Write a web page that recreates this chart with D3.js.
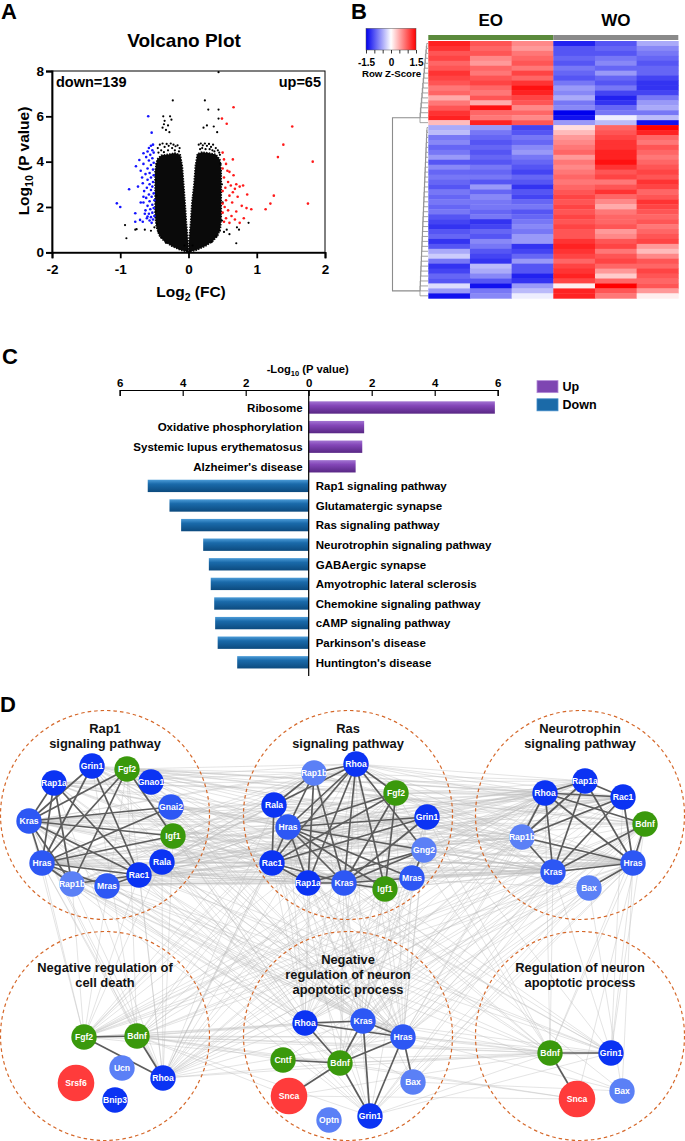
<!DOCTYPE html>
<html><head><meta charset="utf-8">
<script src="https://cdn.jsdelivr.net/npm/d3@7"></script>
<style>
body{margin:0;background:#fff}
svg{display:block}
</style></head><body>
<svg id="fig" width="685" height="1141"></svg>
<script>
// ================= DATA =================
// Panel A – volcano
const volcanoTicksX = [-2,-1,0,1,2];
const volcanoTicksY = [0,2,4,6,8];
const downCount = 139, upCount = 65;
// envelope of the dense (non-significant) point cloud
const coreLeft = [[0,0],[-0.01,0.6],[-0.03,1.3],[-0.05,2.2],[-0.07,3.0],[-0.09,3.8],[-0.12,4.3],[-0.2,4.38],[-0.3,4.32],[-0.4,4.28],[-0.46,4.1],[-0.49,3.6],[-0.49,2.6],[-0.49,1.6],[-0.47,1.1],[-0.43,0.75],[-0.36,0.5],[-0.25,0.28],[-0.12,0.1]];
const coreRight = [[0,0],[0.01,0.6],[0.03,1.3],[0.05,2.2],[0.08,3.0],[0.1,3.8],[0.13,4.35],[0.2,4.42],[0.3,4.38],[0.4,4.32],[0.46,4.1],[0.48,3.6],[0.48,2.6],[0.48,1.6],[0.47,1.1],[0.43,0.75],[0.36,0.5],[0.25,0.28],[0.12,0.1]];
const nsPoints = [[-0.93,1.2],[-0.91,0.62],[-0.78,1.0],[-0.76,1.02],[-0.64,1.0],[-0.37,6.0],[-0.27,6.0],[-0.23,6.7],[-0.35,5.8],[-0.3,5.6],[-0.33,5.4],[-0.28,5.3],[-0.38,5.5],[-0.25,5.85],[-0.36,5.65],[0.24,6.7],[0.29,6.3],[0.44,6.3],[0.22,5.5],[0.27,5.6],[0.37,5.55],[0.42,5.3],[0.44,5.9],[0.44,7.95],[0.56,1.0],[0.71,1.1],[0.74,1.0],[0.88,1.3],[0.7,0.4],[0.52,0.9],[0.6,0.8],[-0.55,0.95],[-0.5,1.1],[-0.45,4.6],[-0.42,4.75],[-0.38,4.8],[-0.35,4.65],[-0.32,4.78],[-0.29,4.7],[-0.26,4.8],[-0.22,4.75],[-0.19,4.68],[-0.16,4.72],[-0.13,4.6],[-0.4,4.5],[-0.3,4.5],[-0.2,4.5],[-0.44,4.4],[-0.24,4.6],[-0.14,4.45],[-0.36,4.42],[0.15,4.75],[0.18,4.8],[0.21,4.72],[0.24,4.8],[0.27,4.7],[0.3,4.78],[0.33,4.65],[0.36,4.75],[0.4,4.6],[0.43,4.5],[0.45,4.4],[0.17,4.55],[0.25,4.55],[0.35,4.5],[0.2,4.6],[0.31,4.55],[0.46,4.3],[0.38,4.45],[-0.47,3.9],[-0.48,3.2],[-0.47,2.5],[-0.48,1.8],[-0.46,1.25],[-0.44,0.9],[-0.4,0.65],[-0.33,0.42],[0.47,3.9],[0.49,3.0],[0.5,2.2],[0.49,1.4],[0.46,0.95],[0.41,0.7],[0.34,0.45],[-0.02,0.05],[0.02,0.05],[-0.06,0.3],[0.06,0.3]];
const downPoints = [[-0.52,4.75],[-0.55,4.7],[-0.58,4.6],[-0.53,4.5],[-0.6,4.45],[-0.51,4.4],[-0.56,4.3],[-0.62,4.2],[-0.53,4.15],[-0.58,4.05],[-0.51,3.95],[-0.66,3.9],[-0.55,3.85],[-0.6,3.7],[-0.52,3.65],[-0.7,3.6],[-0.57,3.5],[-0.63,3.45],[-0.51,3.4],[-0.55,3.3],[-0.6,3.2],[-0.52,3.1],[-0.67,3.05],[-0.57,3.0],[-0.53,2.9],[-0.61,2.85],[-0.55,2.75],[-0.65,2.7],[-0.51,2.6],[-0.58,2.55],[-0.54,2.45],[-0.62,2.4],[-0.5,2.3],[-0.57,2.25],[-0.66,2.2],[-0.53,2.1],[-0.6,2.05],[-0.51,1.95],[-0.56,1.9],[-0.63,1.85],[-0.53,1.75],[-0.58,1.7],[-0.5,1.6],[-0.55,1.55],[-0.61,1.5],[-0.52,1.45],[-0.57,1.4],[-0.67,1.35],[-0.54,1.3],[-0.6,1.58],[-0.59,6.0],[-0.54,5.28],[-1.05,2.16],[-1.0,2.0],[-0.87,2.78],[-0.77,3.8],[-0.72,4.07],[-0.66,4.37],[-0.78,1.72],[-0.78,1.35],[-0.66,2.45],[-0.71,1.43],[-0.68,3.3],[-0.74,2.9],[-0.64,1.7],[-0.7,2.2]];
const upPoints = [[0.66,6.4],[0.49,5.9],[0.56,5.67],[1.52,5.55],[1.39,4.75],[1.31,4.2],[1.82,4.0],[1.25,2.5],[1.2,2.15],[1.13,1.9],[1.75,2.15],[0.5,4.4],[0.52,4.1],[0.65,4.1],[0.55,3.9],[0.5,3.7],[0.6,3.55],[0.66,3.4],[0.52,3.3],[0.58,3.1],[0.7,3.0],[0.62,2.95],[0.75,2.9],[0.8,2.95],[0.54,2.85],[0.68,2.8],[0.5,2.7],[0.86,2.55],[0.6,2.5],[0.72,2.45],[0.55,2.3],[0.5,2.15],[0.64,2.2],[0.78,2.05],[0.53,2.0],[0.85,1.95],[0.92,1.9],[0.58,1.85],[0.7,1.8],[0.5,1.75],[0.63,1.6],[0.81,1.5],[0.55,1.5],[0.68,1.45],[0.52,1.35],[0.75,1.3],[0.6,1.3],[0.65,2.65],[0.57,3.6]];

// Panel B – heatmap (row bands, z-scores for EO1..3, WO1..3)
const sampleGroups = ["EO","WO"];
const zTicks = [-1.5,-1,-0.5,0,0.5,1,1.5];
const zLabels = [-1.5,0,1.5];
const hmTop = [
[1.3,1.0,0.7,-1.3,-1.0,-0.5],[1.2,0.9,0.6,-1.0,-0.9,-0.7],[1.0,1.0,0.8,-1.0,-1.0,-0.8],[1.1,0.7,0.9,-0.9,-0.8,-0.9],
[0.9,0.6,1.0,-1.0,-0.7,-1.0],[1.0,0.9,0.8,-0.8,-0.9,-0.9],[1.2,0.8,1.1,-0.9,-0.6,-0.9],[1.1,1.0,0.9,-1.0,-0.9,-1.1],
[1.0,1.1,1.2,-0.8,-1.0,-1.2],[0.8,0.9,1.4,-0.6,-0.8,-1.2],[0.9,0.8,1.3,-0.7,-1.1,-1.1],[0.5,1.0,1.1,-0.5,-1.3,-0.8],
[0.8,0.5,1.0,-0.8,-1.2,-0.6],[1.0,1.4,0.7,-0.7,-0.9,-0.5],[1.2,0.9,0.9,-1.5,-0.8,-0.8],[1.3,0.8,0.7,-1.4,-0.1,-0.4],
[0.4,1.3,1.0,-0.6,-0.4,-1.4]];
const hmBottom = [
[-0.5,-0.6,-1.1,0.2,0.9,1.5],[-0.4,-0.8,-1.0,0.4,1.0,1.3],[-0.8,-0.9,-0.8,0.6,1.1,0.9],[-0.7,-1.0,-0.9,0.7,1.2,0.8],
[-0.9,-0.9,-0.7,0.8,1.2,1.0],[-0.8,-1.0,-0.6,0.9,1.3,0.9],[-0.6,-0.9,-0.8,0.6,1.3,0.8],[-1.0,-1.0,-0.9,0.8,1.4,0.9],
[-0.7,-0.8,-1.0,0.7,1.2,1.0],[-0.9,-0.9,-1.1,0.8,1.0,1.1],[-0.8,-0.8,-0.9,0.9,1.1,1.0],[-0.9,-1.0,-1.0,0.8,0.8,1.2],
[-1.0,-0.6,-1.2,0.9,1.0,1.1],[-0.8,-0.9,-1.0,1.0,1.2,0.9],[-0.9,-0.7,-1.1,1.1,0.9,1.0],[-0.8,-0.8,-0.9,1.0,0.7,1.2],
[-0.9,-0.8,-0.8,1.1,0.5,1.1],[-0.8,-0.9,-1.0,1.0,0.8,1.0],[-1.0,-0.8,-0.9,1.1,0.9,0.9],[-1.1,-1.2,-0.8,1.0,0.9,1.0],
[-1.2,-1.1,-0.7,1.1,1.0,0.8],[-1.0,-0.9,-0.8,1.0,0.6,0.9],[-0.9,-1.0,-0.6,1.0,0.7,1.0],[-1.2,-0.7,-0.6,1.2,1.0,1.1],
[-1.0,-0.8,-1.2,1.3,1.1,0.6],[-0.5,-1.0,-1.1,1.2,0.8,0.4],[-0.3,-1.1,-0.9,1.1,1.0,0.7],[-0.8,-1.2,-0.6,0.9,1.1,1.0],
[-1.2,-0.4,-1.0,1.1,0.9,0.9],[-1.1,-0.5,-1.0,1.2,0.6,1.1],[-0.9,-0.7,-1.3,1.3,0.3,1.0],[-1.0,-1.0,-1.2,1.1,0.9,0.9],
[-0.2,-1.4,-0.6,0.1,1.5,1.0],[-0.6,-0.8,-0.4,1.3,1.0,0.6],[-1.4,-0.7,-0.1,1.3,0.8,0.1]];

// Panel C – enrichment bars
const termNames = ["Ribosome","Oxidative phosphorylation","Systemic lupus erythematosus","Alzheimer's disease","Rap1 signaling pathway","Glutamatergic synapse","Ras signaling pathway","Neurotrophin signaling pathway","GABAergic synapse","Amyotrophic lateral sclerosis","Chemokine signaling pathway","cAMP signaling pathway","Parkinson's disease","Huntington's disease"];
const termValues = [5.91,1.76,1.70,1.49,5.11,4.42,4.05,3.35,3.17,3.11,3.00,2.97,2.89,2.27];
const termDir = ["Up","Up","Up","Up","Down","Down","Down","Down","Down","Down","Down","Down","Down","Down"];
const barTicks = [-6,-4,-2,0,2,4,6];
const legendKeys = ["Up","Down"];

// Panel D – network
const clusterTitles = [["Rap1","signaling pathway"],["Ras","signaling pathway"],["Neurotrophin","signaling pathway"],["Negative regulation of","cell death"],["Negative","regulation of neuron","apoptotic process"],["Regulation of neuron","apoptotic process"]];
const clusterGenes = [
 ["Grin1","Fgf2","Rap1a","Gnao1","Gnai2","Kras","Igf1","Hras","Rala","Rac1","Rap1b","Mras"],
 ["Rhoa","Rap1b","Fgf2","Rala","Grin1","Hras","Gng2","Rac1","Mras","Rap1a","Kras","Igf1"],
 ["Rap1a","Rhoa","Rac1","Bdnf","Rap1b","Hras","Kras","Bax"],
 ["Fgf2","Bdnf","Ucn","Srsf6","Rhoa","Bnip3"],
 ["Rhoa","Kras","Hras","Cntf","Bdnf","Bax","Snca","Optn","Grin1"],
 ["Bdnf","Grin1","Snca","Bax"]];
const clusterEdges = [
 [["Kras","Grin1"],["Kras","Fgf2"],["Kras","Gnai2"],["Kras","Igf1"],["Kras","Rac1"],["Kras","Hras"],["Kras","Rap1b"],["Kras","Rap1a"],["Hras","Rap1a"],["Hras","Grin1"],["Hras","Fgf2"],["Hras","Gnai2"],["Hras","Igf1"],["Hras","Rac1"],["Hras","Rap1b"],["Hras","Mras"],["Rap1a","Rac1"],["Rap1a","Rap1b"],["Grin1","Rac1"],["Fgf2","Igf1"],["Fgf2","Rap1b"],["Rac1","Mras"],["Rac1","Rap1b"]],
 [["Rhoa","Rap1b"],["Rhoa","Hras"],["Rhoa","Rac1"],["Rhoa","Rap1a"],["Rhoa","Kras"],["Rhoa","Igf1"],["Rhoa","Gng2"],["Rhoa","Fgf2"],["Rhoa","Rala"],["Rap1b","Rala"],["Rap1b","Hras"],["Rap1b","Rap1a"],["Rap1b","Kras"],["Rala","Rac1"],["Rala","Hras"],["Hras","Fgf2"],["Hras","Grin1"],["Hras","Gng2"],["Hras","Rac1"],["Hras","Rap1a"],["Hras","Kras"],["Hras","Igf1"],["Hras","Mras"],["Fgf2","Kras"],["Fgf2","Igf1"],["Fgf2","Rac1"],["Grin1","Kras"],["Grin1","Rac1"],["Gng2","Kras"],["Gng2","Mras"],["Gng2","Rap1a"],["Rac1","Rap1a"],["Rac1","Kras"],["Rap1a","Kras"],["Kras","Igf1"],["Kras","Mras"]],
 [["Rhoa","Rap1a"],["Rhoa","Rac1"],["Rhoa","Bdnf"],["Rhoa","Rap1b"],["Rhoa","Kras"],["Rhoa","Hras"],["Rap1a","Rac1"],["Rap1a","Kras"],["Rap1a","Hras"],["Rap1a","Rap1b"],["Rac1","Rap1b"],["Rac1","Hras"],["Rac1","Kras"],["Bdnf","Kras"],["Bdnf","Hras"],["Rap1b","Kras"],["Rap1b","Hras"],["Kras","Hras"],["Hras","Bax"]],
 [["Fgf2","Bdnf"],["Fgf2","Rhoa"],["Bdnf","Rhoa"]],
 [["Rhoa","Kras"],["Rhoa","Hras"],["Kras","Hras"],["Rhoa","Bdnf"],["Kras","Bdnf"],["Hras","Bdnf"],["Cntf","Bdnf"],["Bdnf","Snca"],["Bdnf","Grin1"],["Kras","Grin1"],["Hras","Grin1"],["Hras","Bax"]],
 [["Bdnf","Grin1"],["Bdnf","Snca"]]];
const geneNames = ["Grin1","Rap1a","Gnao1","Gnai2","Kras","Hras","Rala","Rac1","Rap1b","Mras","Rhoa","Gng2","Bax","Ucn","Bnip3","Optn","Fgf2","Igf1","Bdnf","Cntf","Srsf6","Snca"];
const geneGroup = ["dark","dark","dark","mid","mid","mid","dark","dark","light","mid","dark","light","light","light","dark","light","green","green","green","green","red","red"];
// layout (node offsets from the centre of each cluster circle)
const clusterLayout = [
 [[-13,-49],[22,-46],[-51,-32],[46,-33],[66,-8],[-76,6],[68,21],[-63,48],[57,47],[34,60],[-33,69],[2,71]],
 [[8,-51],[-34,-42],[48,-22],[-74,-10],[79,2],[-60,12],[76,35],[-76,48],[64,63],[-40,68],[-4,68],[37,74]],
 [[5,-34],[-35,-22],[43,-18],[65,9],[-58,22],[53,48],[-27,57],[9,73]],
 [[-21,1],[32,0],[17,32],[-29,47],[58,42],[10,64]],
 [[-43,-13],[15,-15],[55,1],[-65,24],[-8,27],[65,46],[-59,60],[-19,84],[22,80]],
 [[-30,17],[31,17],[-3,63],[42,55]]];
const clusterCols = [105,348,580,105,348,580];
const clusterRows = [815,815,815,1036,1036,1036];
const titleTop = [733,733,733,971.7,964,971.7];

// ================= DRAW =================
const F = '"Liberation Sans", Arial, Helvetica, sans-serif';
const svg = d3.select("#fig").attr("font-family",F);

const panelLetters = ["A","B","C","D"];
const letterXY = [[1,18.5],[351,18.5],[2,364],[0,711.5]];
svg.selectAll("text.pl").data(panelLetters).join("text").attr("class","pl")
  .attr("x",(d,i)=>letterXY[i][0]).attr("y",(d,i)=>letterXY[i][1])
  .attr("font-size",22).attr("font-weight","bold").text(d=>d);

// ---------- Panel A ----------
const gA = svg.append("g");
const vx = d3.scaleLinear().domain([-2,2]).range([52,325]);
const vy = d3.scaleLinear().domain([0,8]).range([252.3,71]);
gA.append("text").attr("x",184).attr("y",46.7).attr("text-anchor","middle")
  .attr("font-size",19).attr("font-weight","bold").text("Volcano Plot");
gA.append("rect").attr("x",vx(-2)).attr("y",vy(8)).attr("width",vx(2)-vx(-2)).attr("height",vy(0)-vy(8))
  .attr("fill","none").attr("stroke","#000").attr("stroke-width",1);
const poly = d3.line().x(d=>vx(d[0])).y(d=>vy(d[1])).curve(d3.curveLinearClosed);
[coreLeft,coreRight].forEach(c=>gA.append("path").attr("d",poly(c)).attr("fill","#0a0a0a")
  .attr("stroke","#0a0a0a").attr("stroke-width",1.6).attr("stroke-dasharray","1.5,1.2"));
gA.selectAll("circle.ns").data(nsPoints).join("circle").attr("class","ns")
  .attr("cx",d=>vx(d[0])).attr("cy",d=>vy(d[1])).attr("r",1.1).attr("fill","#000");
gA.selectAll("circle.dn").data(downPoints).join("circle").attr("class","dn")
  .attr("cx",d=>vx(d[0])).attr("cy",d=>vy(d[1])).attr("r",1.3).attr("fill","#1414ff");
gA.selectAll("circle.up").data(upPoints).join("circle").attr("class","up")
  .attr("cx",d=>vx(d[0])).attr("cy",d=>vy(d[1])).attr("r",1.3).attr("fill","#ff1a1a");
const axA = gA.append("g").attr("transform",`translate(0,${vy(0)})`)
  .call(d3.axisBottom(vx).tickValues(volcanoTicksX).tickSize(6).tickPadding(6).tickFormat(d=>String(d)));
const ayA = gA.append("g").attr("transform",`translate(${vx(-2)},0)`)
  .call(d3.axisLeft(vy).tickValues(volcanoTicksY).tickSize(6).tickPadding(2).tickFormat(d=>String(d)));
[axA,ayA].forEach(a=>{a.selectAll("path,line").attr("stroke","#000").attr("stroke-width",1.8);
  a.selectAll("text").attr("font-size",13.5).attr("font-weight","bold").attr("font-family",F).attr("fill","#000");});
gA.append("text").attr("x",vx(-2)+4).attr("y",87.3).attr("font-size",14.5).attr("font-weight","bold").text("down="+downCount);
gA.append("text").attr("x",vx(2)-4).attr("y",87.3).attr("text-anchor","end").attr("font-size",14.5).attr("font-weight","bold").text("up="+upCount);
const xt = gA.append("text").attr("x",191).attr("y",296.5).attr("text-anchor","middle").attr("font-size",15.5).attr("font-weight","bold");
xt.append("tspan").text("Log");
xt.append("tspan").attr("font-size",10.5).attr("dy",4).text("2");
xt.append("tspan").attr("dy",-4).text(" (FC)");
const yt = gA.append("text").attr("transform","translate(29,161) rotate(-90)").attr("text-anchor","middle").attr("font-size",15.5).attr("font-weight","bold");
yt.append("tspan").text("Log");
yt.append("tspan").attr("font-size",10.5).attr("dy",4).text("10");
yt.append("tspan").attr("dy",-4).text(" (P value)");

// ---------- Panel B ----------
const gB = svg.append("g");
const hmRows = hmTop.concat(hmBottom);
const zColor = d3.scaleLinear().domain([-1.5,0,1.5]).range(["#0000ee","#ffffff","#ff0000"]).clamp(true);
const hx = d3.scaleBand().domain(d3.range(6)).range([428.3,678.3]);
const hy = d3.scaleBand().domain(d3.range(hmRows.length)).range([41,298.3]);
const gx = d3.scaleBand().domain(sampleGroups).range([428.3,678.3]);
gB.selectAll("rect.grp").data(sampleGroups).join("rect").attr("class","grp")
  .attr("x",d=>gx(d)).attr("y",35).attr("width",gx.bandwidth()).attr("height",5)
  .attr("fill",(d,i)=>i?"#8a8a8a":"#5b8a3c");
gB.selectAll("text.grp").data(sampleGroups).join("text").attr("class","grp")
  .attr("x",d=>gx(d)+gx.bandwidth()/2).attr("y",26).attr("text-anchor","middle")
  .attr("font-size",17).attr("font-weight","bold").text(d=>d);
hmRows.forEach((row,ri)=>{
  gB.selectAll(null).data(row).join("rect")
    .attr("x",(d,ci)=>hx(ci)).attr("y",hy(ri)).attr("width",hx.bandwidth()+0.4).attr("height",hy.bandwidth()+0.4)
    .attr("fill",d=>zColor(d));
});
// dendrogram (chained merges down each cluster, then joined)
const dendG = gB.append("g").attr("stroke","#8c8c8c").attr("stroke-width",0.8).attr("fill","none");
const leafX = 428;
function chain(idx){
  const h = d3.scaleLinear().domain([0,idx.length-1]).range([0.8,8]);
  let cur = {x:leafX, y:hy(idx[0])+hy.bandwidth()/2};
  for(let k=1;k<idx.length;k++){
    const ly = hy(idx[k])+hy.bandwidth()/2, nx = leafX-h(k);
    dendG.append("path").attr("d",`M${cur.x},${cur.y}H${nx}V${ly}H${leafX}`);
    cur = {x:nx, y:(cur.y+ly)/2};
  }
  return cur;
}
const rTop = chain(d3.range(hmTop.length));
const rBot = chain(d3.range(hmTop.length,hmRows.length));
dendG.append("path").attr("d",`M${rTop.x},${rTop.y}H392.5V${rBot.y}H${rBot.x}`).attr("stroke-width",1.1);
// colour key
const kx = d3.scaleLinear().domain([-1.5,1.5]).range([366,416]);
const grad = svg.append("defs").append("linearGradient").attr("id","zgrad");
zTicks.forEach(t=>grad.append("stop").attr("offset",(t+1.5)/3).attr("stop-color",zColor(t)));
gB.append("rect").attr("x",kx(-1.5)).attr("y",28.3).attr("width",kx(1.5)-kx(-1.5)).attr("height",21.7)
  .attr("fill","url(#zgrad)").attr("stroke","#555").attr("stroke-width",0.5);
const kax = gB.append("g").attr("transform","translate(0,50)")
  .call(d3.axisBottom(kx).tickValues(zTicks).tickSize(3.5).tickPadding(5).tickFormat(d=>zLabels.includes(d)?String(d):""));
kax.select(".domain").remove();
kax.selectAll("line").attr("stroke","#000").attr("stroke-width",0.8);
kax.selectAll("text").attr("font-size",10).attr("font-weight","bold").attr("font-family",F).attr("fill","#000");
gB.append("text").attr("x",391.5).attr("y",77.3).attr("text-anchor","middle").attr("font-size",9.7).attr("font-weight","bold").text("Row Z-Score");

// ---------- Panel C ----------
const gC = svg.append("g");
const bx = d3.scaleLinear().domain([-6,6]).range([119.7,497.7]);
const by = d3.scaleBand().domain(termNames).range([397.7,672.1]).paddingInner(0.37).paddingOuter(0.185);
const defs = svg.select("defs");
const gradSpec = {Up:["#a274d2","#8447b8","#582784"],Down:["#4c9cd8","#1a6aaa","#0c4a7e"]};
legendKeys.forEach(k=>{
  const g = defs.append("linearGradient").attr("id","bar"+k).attr("x1",0).attr("y1",0).attr("x2",0).attr("y2",1);
  gradSpec[k].forEach((c,i)=>g.append("stop").attr("offset",[0,0.35,1][i]).attr("stop-color",c));
});
gC.selectAll("rect.bar").data(termNames).join("rect").attr("class","bar")
  .attr("x",(d,i)=>termDir[i]==="Up"?bx(0):bx(-termValues[i]))
  .attr("width",(d,i)=>bx(termValues[i])-bx(0))
  .attr("y",d=>by(d)).attr("height",by.bandwidth())
  .attr("fill",(d,i)=>`url(#bar${termDir[i]})`);
gC.selectAll("text.term").data(termNames).join("text").attr("class","term")
  .attr("x",(d,i)=>termDir[i]==="Up"?bx(0)-6:bx(0)+7)
  .attr("y",d=>by(d)+by.bandwidth()/2).attr("dy","0.37em")
  .attr("text-anchor",(d,i)=>termDir[i]==="Up"?"end":"start")
  .attr("font-size",11.5).attr("font-weight","bold").text(d=>d);
const cax = gC.append("g").attr("transform","translate(0,390)")
  .call(d3.axisTop(bx).tickValues(barTicks).tickSizeInner(-6).tickSizeOuter(-6).tickPadding(3.5).tickFormat(d=>String(Math.abs(d))));
cax.selectAll("path,line").attr("stroke","#000").attr("stroke-width",1.2);
cax.selectAll("text").attr("font-size",11.5).attr("font-weight","bold").attr("font-family",F).attr("fill","#000");
gC.append("line").attr("x1",bx(0)).attr("x2",bx(0)).attr("y1",390).attr("y2",676).attr("stroke","#000").attr("stroke-width",1.2);
const ct = gC.append("text").attr("x",bx(0)-1).attr("y",372.7).attr("text-anchor","middle").attr("font-size",11.2).attr("font-weight","bold");
ct.append("tspan").text("-Log");
ct.append("tspan").attr("font-size",7.5).attr("dy",3).text("10");
ct.append("tspan").attr("dy",-3).text(" (P value)");
const ly = d3.scaleBand().domain(legendKeys).range([375,415]).padding(0.2);
gC.selectAll("rect.leg").data(legendKeys).join("rect").attr("class","leg")
  .attr("x",537).attr("y",d=>ly(d)+2).attr("width",21).attr("height",12)
  .attr("fill",d=>d==="Up"?"#7e46b2":"#1b6aa8").attr("stroke",d=>d==="Up"?"#b38ad8":"#3f8ac8").attr("stroke-width",0.8);
gC.selectAll("text.leg").data(legendKeys).join("text").attr("class","leg")
  .attr("x",562.5).attr("y",d=>ly(d)+8).attr("dy","0.36em")
  .attr("font-size",12.5).attr("font-weight","bold").text(d=>d);

// ---------- Panel D ----------
const gD = svg.append("g");
const groupColor = {dark:"#0b33f3",mid:"#2d57f4",light:"#5b80f6",green:"#3a990c",red:"#ff3b3b"};
const geneCol = g => groupColor[geneGroup[geneNames.indexOf(g)]];
const nodes = [];
clusterGenes.forEach((genes,ci)=>{
  const sx = d3.scaleLinear().domain([-100,100]).range([clusterCols[ci]-100,clusterCols[ci]+100]);
  const sy = d3.scaleLinear().domain([-100,100]).range([clusterRows[ci]-100,clusterRows[ci]+100]);
  genes.forEach((g,gi)=>nodes.push({c:ci,g,x:sx(clusterLayout[ci][gi][0]),y:sy(clusterLayout[ci][gi][1]),big:geneGroup[geneNames.indexOf(g)]==="red"}));
});
const pairKey = (a,b)=>a<b?a+"|"+b:b+"|"+a;
const interact = new Set();
clusterEdges.forEach(es=>es.forEach(e=>interact.add(pairKey(e[0],e[1]))));
const crossLinks = [];
for(let i=0;i<nodes.length;i++) for(let j=i+1;j<nodes.length;j++){
  const a=nodes[i], b=nodes[j];
  if(a.c===b.c) continue;
  if(a.g===b.g || interact.has(pairKey(a.g,b.g))) crossLinks.push([a,b]);
}
gD.append("g").selectAll("line").data(crossLinks).join("line")
  .attr("x1",d=>d[0].x).attr("y1",d=>d[0].y).attr("x2",d=>d[1].x).attr("y2",d=>d[1].y)
  .attr("stroke","#bdbdbd").attr("stroke-width",0.55).attr("stroke-opacity",0.75);
gD.selectAll("circle.hull").data(clusterTitles).join("circle").attr("class","hull")
  .attr("cx",(d,i)=>clusterCols[i]).attr("cy",(d,i)=>clusterRows[i]).attr("r",104.5)
  .attr("fill","none").attr("stroke","#d5682a").attr("stroke-width",1.2).attr("stroke-dasharray","3.5,3");
const intra = [];
clusterEdges.forEach((es,ci)=>es.forEach(e=>{
  const a = nodes.find(n=>n.c===ci&&n.g===e[0]), b = nodes.find(n=>n.c===ci&&n.g===e[1]);
  intra.push([a,b]);
}));
gD.append("g").selectAll("line").data(intra).join("line")
  .attr("x1",d=>d[0].x).attr("y1",d=>d[0].y).attr("x2",d=>d[1].x).attr("y2",d=>d[1].y)
  .attr("stroke","#5c5c5c").attr("stroke-width",1.7);
const ng = gD.append("g").selectAll("g").data(nodes).join("g").attr("transform",d=>`translate(${d.x},${d.y})`);
ng.append("circle").attr("r",d=>d.big?18.3:12.7).attr("fill",d=>geneCol(d.g));
ng.append("text").attr("text-anchor","middle").attr("dy","0.35em").attr("fill","#fff")
  .attr("font-size",8.6).attr("font-weight","bold").text(d=>d.g);
clusterTitles.forEach((lines,ci)=>{
  gD.append("text").attr("text-anchor","middle").attr("font-size",12.9).attr("font-weight","bold").attr("fill","#111")
    .selectAll("tspan").data(lines).join("tspan")
    .attr("x",clusterCols[ci]).attr("y",(d,li)=>titleTop[ci]+li*15.2).text(d=>d);
});
</script></body></html>
